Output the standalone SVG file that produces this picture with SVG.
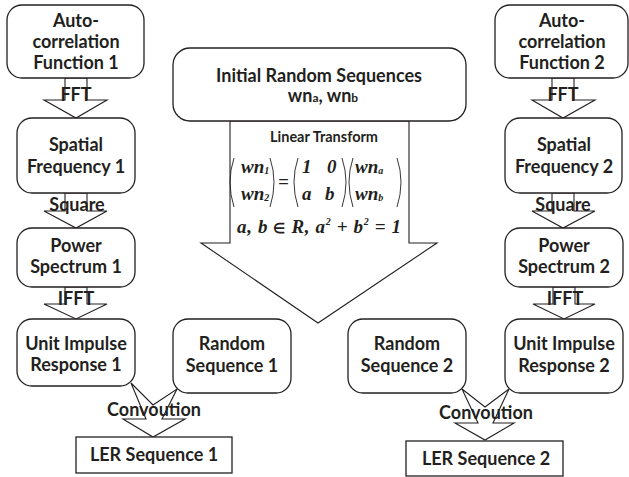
<svg xmlns="http://www.w3.org/2000/svg" width="629" height="477" viewBox="0 0 629 477">
  <style>
    .box { fill: #ffffff; stroke: #231f20; stroke-width: 1.3; }
    .arr { fill: #ffffff; stroke: #231f20; stroke-width: 1.1; stroke-linejoin: miter; }
    .lbl { font-family: Lato, "Open Sans", sans-serif; font-weight: bold; font-size: 18px; fill: #231f20; text-anchor: middle; }
    .sm { font-family: Lato, "Open Sans", sans-serif; font-weight: bold; font-size: 14.5px; fill: #231f20; text-anchor: middle; }
    .m { font-family: "Liberation Serif", "Times New Roman", serif; font-weight: bold; font-style: italic; font-size: 19px; fill: #231f20; }
    .par { fill: none; stroke: #231f20; stroke-width: 0.9; }
  </style>
  <rect width="629" height="477" fill="#ffffff"/>

  <!-- block arrows between stages -->
  <g id="connectors">
    <!-- left chain -->
    <polygon class="arr" points="65,78 87,78 87,100 107,100 76,118 44,100 65,100"/>
    <polygon class="arr" points="65,193 87,193 87,211 107,211 76,228 44,211 65,211"/>
    <polygon class="arr" points="65,287 87,287 87,304 107,304 76,319 44,304 65,304"/>
    <!-- right chain -->
    <polygon class="arr" points="552,78 574,78 574,100 595,100 563,118 532,100 552,100"/>
    <polygon class="arr" points="552,193 574,193 574,211 595,211 563,228 532,211 552,211"/>
    <polygon class="arr" points="553,287 575,287 575,304 595,304 564,319 533,304 553,304"/>
    <!-- linear transform arrow -->
    <polygon class="arr" points="230,121 409,121 409,243 437,243 318,323 201,243 230,243"/>
    <!-- convolution arrows -->
    <polygon class="arr" points="131,383 153,405 177,389 162,419 185,419 153,437 123,419 146,419"/>
    <polygon class="arr" points="462,389 485,407 509,389 493,423 514,423 485,440 455,423 478,423"/>

    <text class="lbl" x="76" y="101">FFT</text>
    <text class="lbl" x="77" y="211">Square</text>
    <text class="lbl" x="76" y="305">IFFT</text>
    <text class="lbl" x="563" y="101">FFT</text>
    <text class="lbl" x="563" y="211">Square</text>
    <text class="lbl" x="565" y="305">IFFT</text>
    <text class="lbl" x="154" y="416">Convoution</text>
    <text class="lbl" x="486" y="419">Convoution</text>
  </g>

  <!-- linear transform annotation -->
  <g id="transform">
    <text class="sm" x="324" y="142">Linear Transform</text>
    <!-- left vector -->
    <path class="par" d="M234,158 Q226,182 234,207"/>
    <path class="par" d="M270,158 Q278,182 270,207"/>
    <text class="m" x="241" y="173">wn<tspan font-size="10" dy="1">1</tspan></text>
    <text class="m" x="241" y="200">wn<tspan font-size="10" dy="1">2</tspan></text>
    <text class="m" x="278" y="188">=</text>
    <!-- coefficient matrix -->
    <path class="par" d="M298,158 Q290,182 298,207"/>
    <path class="par" d="M342,158 Q350,182 342,207"/>
    <text class="m" x="302" y="173">1</text>
    <text class="m" x="327" y="173">0</text>
    <text class="m" x="302" y="200">a</text>
    <text class="m" x="325" y="200">b</text>
    <!-- right vector -->
    <path class="par" d="M353,158 Q345,182 353,207"/>
    <path class="par" d="M397,158 Q405,182 397,207"/>
    <text class="m" x="355" y="173">wn<tspan font-size="10" dy="1">a</tspan></text>
    <text class="m" x="355" y="200">wn<tspan font-size="10" dy="1">b</tspan></text>
    <text class="m" x="237" y="233" textLength="164" lengthAdjust="spacing">a, b <tspan font-style="normal" font-size="14">∈</tspan> R, a<tspan font-size="10" dy="-8">2</tspan><tspan dy="8"> + b</tspan><tspan font-size="10" dy="-8">2</tspan><tspan dy="8"> = 1</tspan></text>
  </g>

  <g id="initial">
    <rect class="box" x="173" y="48" width="293" height="73" rx="17"/>
    <text class="lbl" x="319" y="82">Initial Random Sequences</text>
    <text class="lbl" x="323" y="102" font-size="17">wn<tspan font-size="12">a</tspan>, wn<tspan font-size="12">b</tspan></text>
  </g>

  <!-- left branch -->
  <g id="acf1">
    <rect class="box" x="7" y="5" width="137" height="73" rx="15"/>
    <text class="lbl" x="76" y="27">Auto-</text>
    <text class="lbl" x="76" y="48">correlation</text>
    <text class="lbl" x="76" y="69">Function 1</text>
  </g>
  <g id="sf1">
    <rect class="box" x="17" y="118" width="118" height="75" rx="15"/>
    <text class="lbl" x="76" y="151">Spatial</text>
    <text class="lbl" x="76" y="173">Frequency 1</text>
  </g>
  <g id="ps1">
    <rect class="box" x="17" y="228" width="118" height="59" rx="15"/>
    <text class="lbl" x="76" y="252">Power</text>
    <text class="lbl" x="76" y="273">Spectrum 1</text>
  </g>
  <g id="uir1">
    <rect class="box" x="17" y="319" width="118" height="67" rx="15"/>
    <text class="lbl" x="76" y="350">Unit Impulse</text>
    <text class="lbl" x="76" y="371">Response 1</text>
  </g>
  <g id="rs1">
    <rect class="box" x="173" y="319" width="118" height="74" rx="15"/>
    <text class="lbl" x="232" y="350">Random</text>
    <text class="lbl" x="232" y="372">Sequence 1</text>
  </g>
  <g id="ler1">
    <rect class="box" x="76" y="437" width="156" height="36"/>
    <text class="lbl" x="154" y="461">LER Sequence 1</text>
  </g>

  <!-- right branch -->
  <g id="acf2">
    <rect class="box" x="495" y="5" width="133" height="73" rx="15"/>
    <text class="lbl" x="562" y="27">Auto-</text>
    <text class="lbl" x="562" y="48">correlation</text>
    <text class="lbl" x="562" y="69">Function 2</text>
  </g>
  <g id="sf2">
    <rect class="box" x="505" y="118" width="117" height="75" rx="15"/>
    <text class="lbl" x="564" y="151">Spatial</text>
    <text class="lbl" x="564" y="173">Frequency 2</text>
  </g>
  <g id="ps2">
    <rect class="box" x="505" y="228" width="118" height="59" rx="15"/>
    <text class="lbl" x="564" y="252">Power</text>
    <text class="lbl" x="564" y="273">Spectrum 2</text>
  </g>
  <g id="uir2">
    <rect class="box" x="505" y="319" width="118" height="74" rx="15"/>
    <text class="lbl" x="564" y="350">Unit Impulse</text>
    <text class="lbl" x="564" y="372">Response 2</text>
  </g>
  <g id="rs2">
    <rect class="box" x="348" y="319" width="118" height="74" rx="15"/>
    <text class="lbl" x="407" y="350">Random</text>
    <text class="lbl" x="407" y="372">Sequence 2</text>
  </g>
  <g id="ler2">
    <rect class="box" x="406" y="441" width="157" height="35"/>
    <text class="lbl" x="486" y="465">LER Sequence 2</text>
  </g>
</svg>
